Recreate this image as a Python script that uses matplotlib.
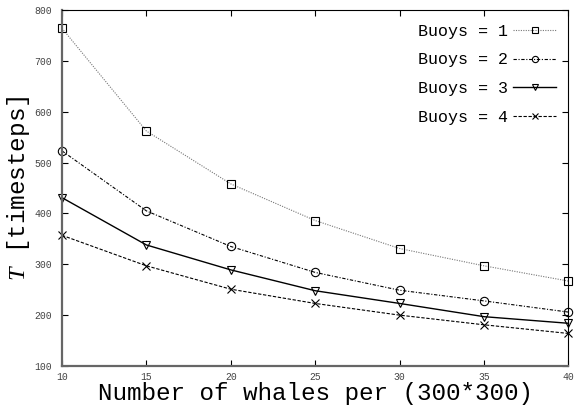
import matplotlib
matplotlib.use('Agg')
import matplotlib.pyplot as plt

plt.rcParams['font.family'] = 'Liberation Mono'
plt.rcParams['mathtext.fontset'] = 'custom'
plt.rcParams['mathtext.it'] = 'Liberation Serif:italic'

# whales per (300*300) area
whales = [10, 15, 20, 25, 30, 35, 40]

# timesteps needed, one list per number of buoys
buoys1 = [764, 562, 458, 386, 331, 297, 267]
buoys2 = [523, 405, 335, 284, 249, 228, 206]
buoys3 = [431, 338, 289, 248, 223, 197, 184]
buoys4 = [357, 297, 251, 223, 200, 181, 164]

labels = ['Buoys = 1', 'Buoys = 2', 'Buoys = 3', 'Buoys = 4']
xticks = [10, 15, 20, 25, 30, 35, 40]
yticks = [100, 200, 300, 400, 500, 600, 700, 800]

fig = plt.figure(figsize=(5.82, 4.09), dpi=100)
ax = fig.add_axes([0.1065, 0.1051, 0.8703, 0.8705])

common = dict(markersize=6, markerfacecolor='none', markeredgecolor='black',
              markeredgewidth=0.8, clip_on=False)
ax.plot(whales, buoys1, color='#777777', linestyle=(0, (1, 1.2)), linewidth=0.8,
        marker='s', label=labels[0], **common)
ax.plot(whales, buoys2, color='black', linestyle=(0, (3, 1.5, 1, 1.5)), linewidth=0.8,
        marker='o', label=labels[1], **common)
ax.plot(whales, buoys3, color='black', linestyle='-', linewidth=1.0,
        marker='v', label=labels[2], **common)
ax.plot(whales, buoys4, color='black', linestyle=(0, (3, 1.5)), linewidth=0.8,
        marker='x', label=labels[3], **common)

ax.set_xlim(10, 40)
ax.set_ylim(100, 800)
ax.set_xticks(xticks)
ax.set_yticks(yticks)
ax.tick_params(direction='in', length=4, width=0.8, top=True, right=True,
               labelsize=7, labelcolor='#444444')
ax.tick_params(axis='x', pad=4)
ax.tick_params(axis='y', pad=7)

ax.spines['left'].set_color('#666666')
ax.spines['bottom'].set_color('#666666')
ax.spines['left'].set_linewidth(1.6)
ax.spines['bottom'].set_linewidth(1.6)
ax.spines['top'].set_linewidth(0.8)
ax.spines['right'].set_linewidth(0.8)

ax.set_xlabel('Number of whales per (300*300)', fontsize=17.5, labelpad=0)
ax.set_ylabel(r'$\mathit{T}$ [timesteps]', fontsize=17.5, labelpad=2)

ax.legend(loc='upper right', bbox_to_anchor=(0.989, 0.98), frameon=False,
          markerfirst=False, fontsize=12, handlelength=2.6, handletextpad=0.3,
          labelspacing=0.82, borderaxespad=0, markerscale=0.75)

fig.savefig('out.png', dpi=100)
